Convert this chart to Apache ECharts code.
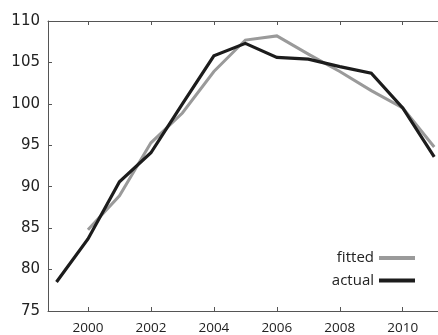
<!DOCTYPE html>
<html>
<head>
<meta charset="utf-8">
<script src="https://cdn.jsdelivr.net/npm/echarts@6/dist/echarts.min.js"></script>
<style>
  html, body { margin: 0; padding: 0; background: #fff; }
  #chart { width: 438px; height: 335px; }
</style>
</head>
<body>
<div id="chart"></div>
<script>
// Years on the horizontal axis
const years = [1999, 2000, 2001, 2002, 2003, 2004, 2005, 2006, 2007, 2008, 2009, 2010, 2011];
// Observed series
const actual = [78.5, 83.7, 90.6, 94.1, 100.0, 105.8, 107.3, 105.6, 105.4, 104.5, 103.7, 99.5, 93.6];
// Model fit (no value for the first year)
const fitted = [null, 84.8, 88.9, 95.3, 98.9, 103.9, 107.7, 108.2, 106.0, 103.9, 101.6, 99.5, 94.8];
// Tick labels
const xTicks = [2000, 2002, 2004, 2006, 2008, 2010];
const yTicks = [75, 80, 85, 90, 95, 100, 105, 110];

const pairs = (vals) => years.map((y, i) => [y, vals[i]]);

const axisColor = '#555';
const chart = echarts.init(document.getElementById('chart'), null, { renderer: 'canvas' });

chart.setOption({
  animation: false,
  backgroundColor: '#fff',
  grid: { left: 48, right: 0, top: 21, bottom: 21, containLabel: false },
  legend: {
    orient: 'vertical',
    right: 23,
    top: 249,
    padding: 0,
    align: 'right',
    itemWidth: 36,
    itemHeight: 4,
    itemGap: 4.4,
    icon: 'rect',
    textStyle: { fontFamily: 'Open Sans', fontSize: 15, color: '#222', lineHeight: 18 },
    data: ['fitted', 'actual']
  },
  xAxis: [
    {
      type: 'value',
      position: 'bottom',
      min: 1998.73,
      max: 2011.12,
      splitLine: { show: false },
      axisLine: { onZero: false, lineStyle: { color: axisColor, width: 1 } },
      axisTick: { inside: true, length: 4, customValues: xTicks, lineStyle: { color: axisColor } },
      axisLabel: {
        customValues: xTicks,
        fontFamily: 'Open Sans',
        fontSize: 13.5,
        color: '#222',
        margin: 10,
        formatter: (v) => String(v)
      }
    },
    {
      type: 'value',
      position: 'top',
      min: 1998.73,
      max: 2011.12,
      splitLine: { show: false },
      axisLine: { onZero: false, lineStyle: { color: axisColor, width: 1 } },
      axisTick: { inside: true, length: 4, customValues: xTicks, lineStyle: { color: axisColor } },
      axisLabel: { show: false }
    }
  ],
  yAxis: {
    type: 'value',
    min: 75,
    max: 110,
    interval: 5,
    splitLine: { show: false },
    axisLine: { show: true, lineStyle: { color: axisColor, width: 1 } },
    axisTick: { show: true, inside: true, length: 4, lineStyle: { color: axisColor } },
    axisLabel: {
      customValues: yTicks,
      fontFamily: 'DejaVu Sans',
      fontSize: 15,
      color: '#222',
      margin: 8
    }
  },
  series: [
    {
      name: 'fitted',
      type: 'line',
      data: pairs(fitted),
      showSymbol: false,
      symbol: 'none',
      connectNulls: false,
      color: '#9a9a9a',
      lineStyle: { color: '#9a9a9a', width: 3, join: 'miter' },
      z: 2
    },
    {
      name: 'actual',
      type: 'line',
      data: pairs(actual),
      showSymbol: false,
      symbol: 'none',
      color: '#1c1c1c',
      lineStyle: { color: '#1c1c1c', width: 3.2, join: 'miter' },
      z: 3
    }
  ]
});
</script>
</body>
</html>
